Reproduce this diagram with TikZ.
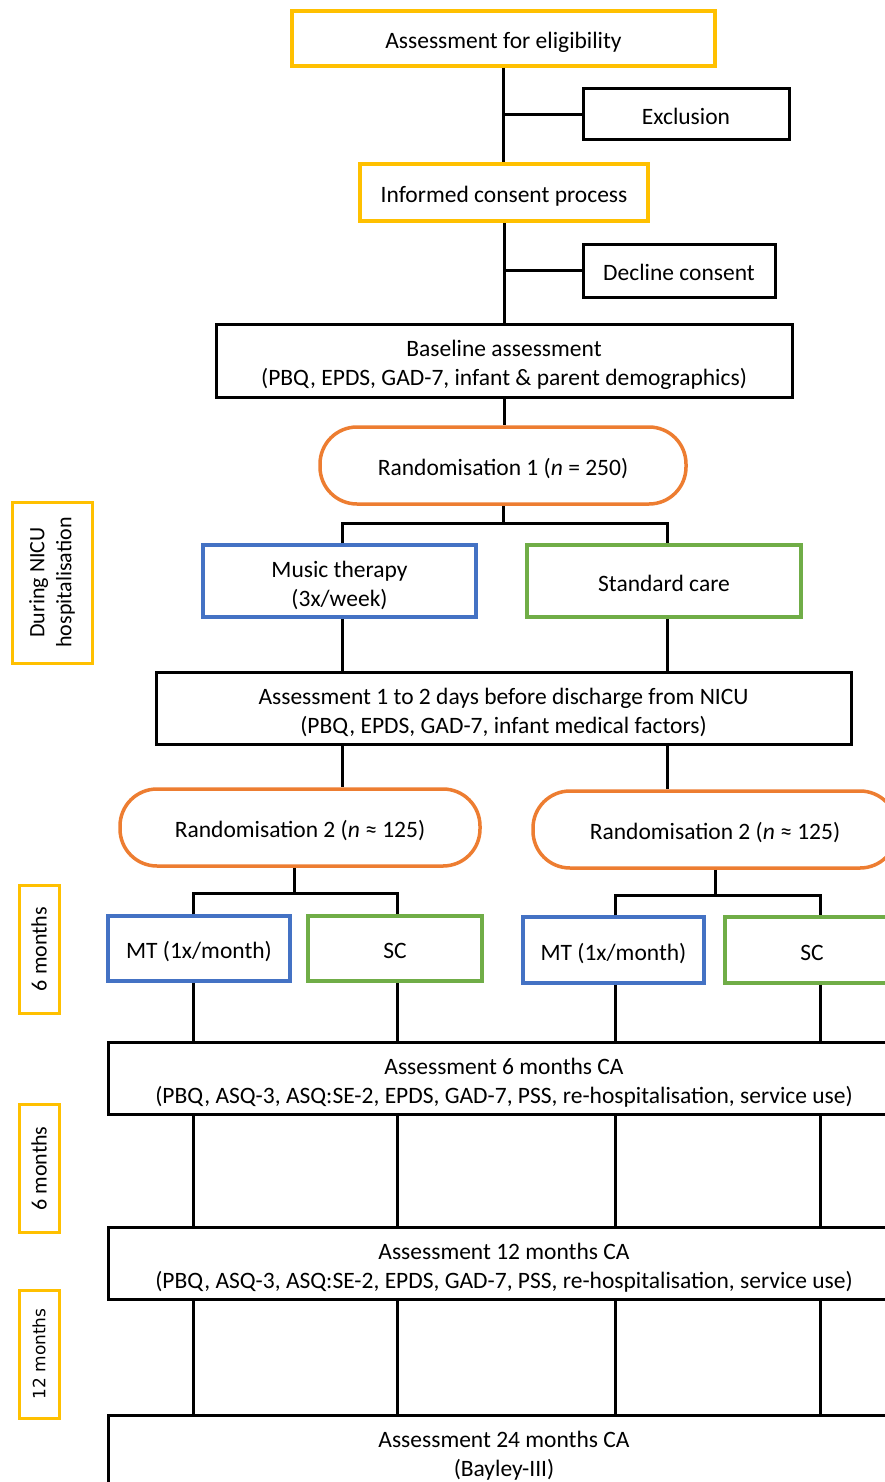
\documentclass[tikz,border=0pt]{standalone}
\usepackage{fontspec}
\setmainfont{Carlito}
\usepackage{tikz}
\usetikzlibrary{positioning}

\definecolor{goldline}{HTML}{FFC000}
\definecolor{orangeline}{HTML}{ED7D31}
\definecolor{blueline}{HTML}{4472C4}
\definecolor{greenline}{HTML}{70AD47}

\newcommand{\widelabel}{%
	\IfFontExistsTF{DejaVu Sans}{\fontspec{DejaVu Sans}\fontsize{17}{20}}{\fontsize{21}{24}}\selectfont}

\begin{document}
\begin{tikzpicture}[
	x=1pt, y=-1pt,
	font=\fontsize{23.5}{29}\selectfont,
	BlackBox/.style={rectangle, draw, line width=3pt, align=center, inner sep=0pt,
		execute at begin node={\rule{0pt}{26.5pt}},
		execute at end node={\rule[-6.5pt]{0pt}{6.5pt}}},
	TwoLine/.style={execute at begin node={\rule{0pt}{56.5pt}}},
	GoldBox/.style={BlackBox, draw=goldline, line width=3.5pt},
	BlueBox/.style={BlackBox, draw=blueline, line width=3.5pt},
	GreenBox/.style={BlackBox, draw=greenline, line width=3.5pt},
	RandNode/.style={BlackBox, rounded corners=37pt, draw=orangeline, line width=3.5pt,
		minimum width=366, minimum height=77},
	SideNode/.style={rectangle, draw=goldline, line width=3pt, rotate=90, align=center,
		inner sep=0pt, font=\fontsize{22}{27}\selectfont},
	Link/.style={line width=3pt}
	]

\useasboundingbox (0,0) rectangle (885,1482);
\clip (0,0) rectangle (885,1482);

\node [GoldBox, minimum width=423, minimum height=55] (elig) at (503.5,38.5) {Assessment for eligibility};
\node [BlackBox, minimum width=206, minimum height=51] (excl) at (686,114.5) {Exclusion};
\node [GoldBox, minimum width=288, minimum height=57] (consent) at (504,192.5) {Informed consent process};
\node [BlackBox, minimum width=192, minimum height=53] (decline) at (679,270.5) {Decline consent};
\node [BlackBox, TwoLine, minimum width=576, minimum height=73] (base) at (504,360.5) {Baseline assessment\\(PBQ, EPDS, GAD-7, infant \& parent demographics)};
\node [RandNode] (rand1) at (503,465.5) {Randomisation 1 (\textit{n} = 250)};

\node [BlueBox, TwoLine, minimum width=273, minimum height=72] (mt) at (339.5,581) {Music therapy\\(3x/week)};
\node [GreenBox, minimum width=274, minimum height=72] (sc) at (664,581) {Standard care};
\node [BlackBox, TwoLine, minimum width=695, minimum height=72] (disch) at (503.5,708) {Assessment 1 to 2 days before discharge from NICU\\(PBQ, EPDS, GAD-7, infant medical factors)};

\node [RandNode, minimum width=360] (randA) at (300,827.5) {Randomisation 2 (\textit{n} ≈ 125)};
\node [RandNode, minimum width=364] (randB) at (715,829.5) {Randomisation 2 (\textit{n} ≈ 125)};

\node [BlueBox, minimum width=182, minimum height=65] (mtA) at (199,948.5) {MT (1x/month)};
\node [GreenBox, minimum width=174, minimum height=65] (scA) at (395,948.5) {SC};
\node [BlueBox, minimum width=181, minimum height=66] (mtB) at (613.5,950) {MT (1x/month)};
\node [GreenBox, minimum width=174, minimum height=66] (scB) at (812,950) {SC};

\node [BlackBox, TwoLine, minimum width=792, minimum height=72] (six) at (504,1078) {Assessment 6 months CA\\(PBQ, ASQ-3, ASQ:SE-2, EPDS, GAD-7, PSS, re-hospitalisation, service use)};
\node [BlackBox, TwoLine, minimum width=792, minimum height=72] (twelve) at (504,1263) {Assessment 12 months CA\\(PBQ, ASQ-3, ASQ:SE-2, EPDS, GAD-7, PSS, re-hospitalisation, service use)};
\node [BlackBox, TwoLine, minimum width=792, minimum height=72] (tfour) at (504,1451) {Assessment 24 months CA\\(Bayley-III)};

% time periods on the left
\node [SideNode, minimum width=161, minimum height=80] (nicu) at (52,582.5) {During NICU\\hospitalisation};
\node [SideNode, minimum width=128, minimum height=40] (sixA) at (39,949) {6 months};
\node [SideNode, minimum width=128, minimum height=40] (sixB) at (39,1168.5) {6 months};
\node [SideNode, minimum width=128, minimum height=40, font=\widelabel] (twelveA) at (39,1354) {12 months};

% columns of the connectors
\coordinate (colL) at (342,0);
\coordinate (colR) at (667,0);
\coordinate (colA) at (193,0);
\coordinate (colB) at (397,0);
\coordinate (colC) at (615,0);
\coordinate (colD) at (820,0);
\coordinate (split1) at (503,523);
\coordinate (splitA) at (294,893);
\coordinate (splitB) at (715,895);

\draw [Link] (elig.south) -- (elig.south |- consent.north);
\draw [Link] (excl.west) -- (excl.west -| elig.south);
\draw [Link] (consent.south) -- (consent.south |- base.north);
\draw [Link] (decline.west) -- (decline.west -| consent.south);
\draw [Link] (base.south) -- (base.south |- rand1.north);
\draw [Link] (rand1.south) -- (split1);
\draw [Link] (mt.north -| colL) |- (split1) -| (sc.north -| colR);
\draw [Link] (mt.south -| colL) -- (disch.north -| colL);
\draw [Link] (sc.south -| colR) -- (disch.north -| colR);
\draw [Link] (disch.south -| colL) -- (randA.north -| colL);
\draw [Link] (disch.south -| colR) -- (randB.north -| colR);

\draw [Link] (randA.south -| splitA) -- (splitA);
\draw [Link] (mtA.north -| colA) |- (splitA) -| (scA.north -| colB);
\draw [Link] (randB.south) -- (splitB);
\draw [Link] (mtB.north -| colC) |- (splitB) -| (scB.north -| colD);

\draw [Link] (mtA.south -| colA) -- (six.north -| colA);
\draw [Link] (scA.south -| colB) -- (six.north -| colB);
\draw [Link] (mtB.south -| colC) -- (six.north -| colC);
\draw [Link] (scB.south -| colD) -- (six.north -| colD);
\draw [Link] (six.south -| colA) -- (twelve.north -| colA);
\draw [Link] (six.south -| colB) -- (twelve.north -| colB);
\draw [Link] (six.south -| colC) -- (twelve.north -| colC);
\draw [Link] (six.south -| colD) -- (twelve.north -| colD);
\draw [Link] (twelve.south -| colA) -- (tfour.north -| colA);
\draw [Link] (twelve.south -| colB) -- (tfour.north -| colB);
\draw [Link] (twelve.south -| colC) -- (tfour.north -| colC);
\draw [Link] (twelve.south -| colD) -- (tfour.north -| colD);

\end{tikzpicture}
\end{document}
